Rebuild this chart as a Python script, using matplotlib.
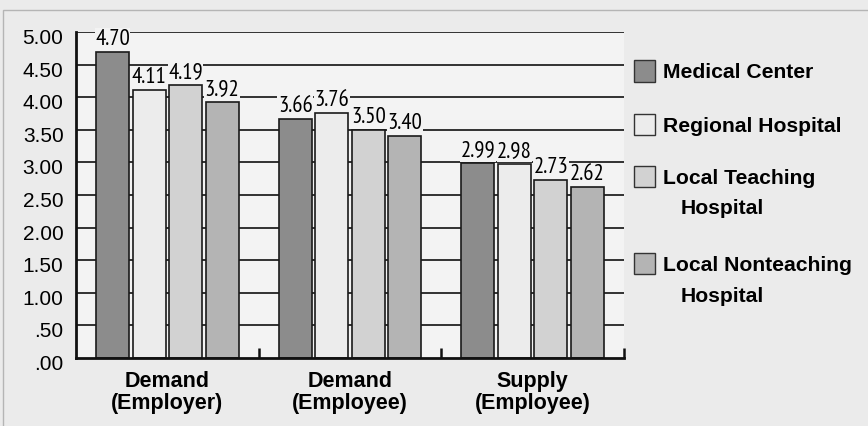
import numpy as np
import matplotlib.pyplot as plt
import matplotlib as mpl
from matplotlib.patches import Rectangle
from matplotlib.transforms import ScaledTranslation

categories = ['Demand\n(Employer)', 'Demand\n(Employee)', 'Supply\n(Employee)']
series = ['Medical Center', 'Regional Hospital', 'Local Teaching\nHospital', 'Local Nonteaching\nHospital']
medical_center = [4.70, 3.66, 2.99]
regional_hospital = [4.11, 3.76, 2.98]
local_teaching = [4.19, 3.50, 2.73]
local_nonteaching = [3.92, 3.40, 2.62]
yticks = [0, 0.5, 1, 1.5, 2, 2.5, 3, 3.5, 4, 4.5, 5]
ytick_labels = ['.00', '.50', '1.00', '1.50', '2.00', '2.50', '3.00', '3.50', '4.00', '4.50', '5.00']

values = [medical_center, regional_hospital, local_teaching, local_nonteaching]
colors = ['#8c8c8c', '#ececec', '#d2d2d2', '#b4b4b4']
fig_bg = '#ebebeb'
ax_bg = '#f3f3f3'
W, H = 868, 426

mpl.rcParams['font.family'] = ['Liberation Sans', 'DejaVu Sans']

fig = plt.figure(figsize=(W / 100, H / 100), dpi=100, facecolor=fig_bg)
ax = fig.add_axes([76 / W, 1 - 358 / H, (624 - 76) / W, (358 - 32) / H])
ax.set_facecolor(ax_bg)

x = np.arange(len(categories)) + 0.5
offsets = [-0.3, -0.1, 0.1, 0.3]
width = 0.18

# линии сетки за столбцами
for yv in yticks[1:]:
    ax.axhline(yv, color='#222222', lw=1.3, zorder=1)

for vals, off, col in zip(values, offsets, colors):
    bars = ax.bar(x + off, vals, width, color=col, edgecolor='#1a1a1a', lw=1.2, zorder=2)
    for b, v in zip(bars, vals):
        ax.text(b.get_x() + b.get_width() / 2, v + 0.03, f'{v:.2f}',
                ha='center', va='bottom', fontsize=16.5,
                family=['PT Sans Narrow', 'DejaVu Sans'],
                bbox=dict(facecolor=ax_bg, edgecolor='none', pad=0.3), zorder=3)

ax.set_xlim(0, 3)
ax.set_ylim(0, 5)
ax.set_yticks(yticks)
ax.set_yticklabels(ytick_labels, fontsize=15)
ax.tick_params(axis='y', length=0, pad=9)
shift = ScaledTranslation(0, -4.5 / 100, fig.dpi_scale_trans)
for lbl in ax.get_yticklabels():
    lbl.set_transform(lbl.get_transform() + shift)
ax.set_xticks([1, 2, 3])
ax.set_xticklabels([])
ax.tick_params(axis='x', direction='in', length=7, width=1.8, color='#111111')
for i, c in enumerate(categories):
    ax.text(x[i], -0.2, c, ha='center', va='top', fontsize=15.5, fontweight='bold',
            linespacing=1.05)

for s in ['top', 'right']:
    ax.spines[s].set_visible(False)
for s in ['left', 'bottom']:
    ax.spines[s].set_linewidth(2)
    ax.spines[s].set_color('#111111')

# легенда вручную
legend_y = [71, 124.5, 176.5, 263.5]
for lab, col, yc in zip(series, colors, legend_y):
    fig.patches.append(Rectangle((634 / W, 1 - (yc + 10.5) / H), 21 / W, 21 / H,
                                 transform=fig.transFigure, facecolor=col,
                                 edgecolor='#333333', lw=1))
    lines = lab.split('\n')
    fig.text(663 / W, 1 - yc / H, lines[0], ha='left', va='center_baseline',
             fontsize=15.2, fontweight='bold')
    for k, ln in enumerate(lines[1:], start=1):
        fig.text(681 / W, 1 - (yc + 30.5 * k) / H, ln, ha='left', va='center_baseline',
                 fontsize=15.2, fontweight='bold')

# внешняя рамка
fig.patches.append(Rectangle((3 / W, -0.1), 1.1, 1.1 - 10 / H, transform=fig.transFigure,
                             fill=False, edgecolor='#b5b5b5', lw=1))

fig.savefig('out.png', dpi=100, facecolor=fig_bg)
